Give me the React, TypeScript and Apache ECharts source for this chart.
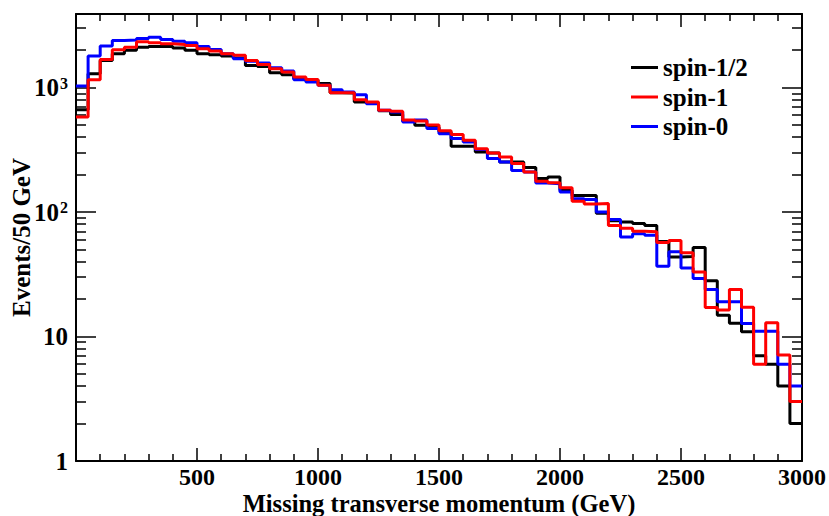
import React, { useEffect, useRef } from 'react';
import * as echarts from 'echarts';

// Lower edges of the 50 GeV bins
const binStarts = [
  0, 50, 100, 150, 200, 250, 300, 350, 400, 450,
  500, 550, 600, 650, 700, 750, 800, 850, 900, 950,
  1000, 1050, 1100, 1150, 1200, 1250, 1300, 1350, 1400, 1450,
  1500, 1550, 1600, 1650, 1700, 1750, 1800, 1850, 1900, 1950,
  2000, 2050, 2100, 2150, 2200, 2250, 2300, 2350, 2400, 2450,
  2500, 2550, 2600, 2650, 2700, 2750, 2800, 2850, 2900, 2950,
];
const xEnd = 3000;

const spinHalf = [
  665, 1292, 1653, 1871, 1990, 2113, 2142, 2142, 2075, 1990,
  1871, 1836, 1790, 1725, 1507, 1480, 1318, 1270, 1178, 1150,
  1080, 910, 905, 765, 750, 650, 609, 540, 497, 482,
  440, 337, 337, 304, 298, 252, 252, 228, 186, 191,
  150, 136, 136, 98, 85, 83, 81, 78, 58, 43.6,
  44, 52, 28, 14.8, 12.8, 10.9, 7, 6, 4, 2,
];
const spinOne = [
  580, 1157, 1684, 2015, 2113, 2334, 2290, 2249, 2221, 2182,
  2052, 1963, 1871, 1822, 1650, 1535, 1419, 1334, 1215, 1163,
  1042, 910, 910, 800, 765, 656, 644, 550, 540, 500,
  450, 419, 377, 323, 298, 277, 245, 210, 177, 172,
  157, 122, 116, 117, 78, 74, 70, 69.5, 57, 59,
  47, 33, 17.1, 16.3, 23.9, 17.2, 6, 12.9, 7.1, 3,
];
const spinZero = [
  1028, 1790, 2153, 2393, 2406, 2483, 2531, 2437, 2360, 2290,
  2142, 2027, 1871, 1706, 1630, 1574, 1446, 1359, 1157, 1107,
  1042, 962, 920, 877, 743, 656, 636, 530, 550, 468,
  426, 389, 365, 318, 269, 252, 216, 210, 171, 169,
  145, 128, 126, 100, 87, 63, 67, 65, 36.7, 48,
  35.6, 29.3, 23.9, 19, 19, 12.7, 11, 11, 6, 4,
];

const seriesNames = ['spin-1/2', 'spin-1', 'spin-0'];
const seriesColors = ['#000000', '#ff0000', '#0000ff'];

const yMajorTicks = [1, 10, 100, 1000];
const yMinorTicks = [
  2, 3, 4, 5, 6, 7, 8, 9,
  20, 30, 40, 50, 60, 70, 80, 90,
  200, 300, 400, 500, 600, 700, 800, 900,
  2000, 3000,
];
const yMin = 1;
const yMax = 3900;

const FONT = "'Liberation Serif', 'DejaVu Serif', serif";

function histData(vals: number[]) {
  const d: [number, number][] = binStarts.map((x, i) => [x, vals[i]]);
  d.push([xEnd, vals[vals.length - 1]]);
  return d;
}

export default function App() {
  const ref = useRef<HTMLDivElement>(null);
  useEffect(() => {
    if (!ref.current) return;
    const chart = echarts.init(ref.current, undefined, { renderer: 'svg' });
    const lineW = 2;
    const tickStyle = { color: '#000', width: 1.5 };
    const mkX = (pos: 'bottom' | 'top', labels: boolean) => ({
      type: 'value',
      position: pos,
      min: 0,
      max: 3000,
      interval: 500,
      axisLine: { show: true, onZero: false, lineStyle: { color: '#000', width: lineW } },
      axisTick: { show: true, inside: true, length: 13, lineStyle: tickStyle },
      minorTick: { show: true, splitNumber: 5, length: 7, lineStyle: tickStyle },
      splitLine: { show: false },
      minorSplitLine: { show: false },
      axisLabel: {
        show: labels,
        margin: 6,
        fontFamily: FONT,
        fontWeight: 'bold',
        fontSize: 24,
        lineHeight: 20,
        color: '#000',
        formatter: (v: number) => (v === 0 ? '' : String(v)),
      },
      name: labels ? 'Missing transverse momentum (GeV)' : '',
      nameLocation: 'middle',
      nameGap: 31,
      nameMoveOverlap: false,
      nameTextStyle: { fontFamily: FONT, fontWeight: 'bold', fontSize: 24.5, lineHeight: 22, color: '#000' },
    });
    const mkY = (pos: 'left' | 'right', major: boolean, labels: boolean) => ({
      type: 'log',
      logBase: 10,
      position: pos,
      min: yMin,
      max: yMax,
      axisLine: { show: major, onZero: false, lineStyle: { color: '#000', width: lineW } },
      axisTick: {
        show: true,
        inside: true,
        length: major ? 20 : 10,
        customValues: major ? yMajorTicks : yMinorTicks,
        lineStyle: tickStyle,
      },
      splitLine: { show: false },
      axisLabel: {
        show: labels,
        customValues: yMajorTicks,
        margin: 8,
        fontFamily: FONT,
        fontWeight: 'bold',
        fontSize: 25,
        color: '#000',
        formatter: (v: number) => {
          if (v >= 1000) return '10{s|3}';
          if (v >= 100) return '10{s|2}';
          if (v >= 10) return '10';
          return '1';
        },
        rich: {
          s: {
            fontFamily: FONT,
            fontWeight: 'bold',
            fontSize: 16,
            color: '#000',
            verticalAlign: 'top',
            lineHeight: 16,
            padding: [0, 0, 10, 1],
          },
        },
      },
      name: labels ? 'Events/50 GeV' : '',
      nameLocation: 'middle',
      nameGap: 42,
      nameMoveOverlap: false,
      nameTextStyle: { fontFamily: FONT, fontWeight: 'bold', fontSize: 25, lineHeight: 26, color: '#000' },
    });

    const mkSeries = (name: string, color: string, vals: number[]) => ({
      name,
      type: 'line',
      step: 'end',
      symbol: 'none',
      color,
      lineStyle: { color, width: 3 },
      data: histData(vals),
      xAxisIndex: 0,
      yAxisIndex: 0,
    });

    chart.setOption({
      animation: false,
      backgroundColor: '#ffffff',
      grid: { left: 76, right: 27, top: 14, bottom: 55, containLabel: false, outerBoundsMode: 'none' },
      legend: {
        data: seriesNames,
        orient: 'vertical',
        left: 626,
        top: 50,
        icon: 'rect',
        itemWidth: 27,
        itemHeight: 3,
        itemGap: 4.5,
        textStyle: {
          fontFamily: FONT,
          fontWeight: 'bold',
          fontSize: 25,
          lineHeight: 25,
          color: '#000',
        },
      },
      xAxis: [mkX('bottom', true), mkX('top', false)],
      yAxis: [
        mkY('left', true, true),
        mkY('left', false, false),
        mkY('right', true, false),
        mkY('right', false, false),
      ],
      series: [
        mkSeries(seriesNames[0], seriesColors[0], spinHalf),
        mkSeries(seriesNames[2], seriesColors[2], spinZero),
        mkSeries(seriesNames[1], seriesColors[1], spinOne),
      ],
    });
    return () => chart.dispose();
  }, []);
  return (
    <div
      ref={ref}
      style={{ position: 'fixed', left: 0, top: 0, width: 829, height: 516, background: '#fff' }}
    />
  );
}
